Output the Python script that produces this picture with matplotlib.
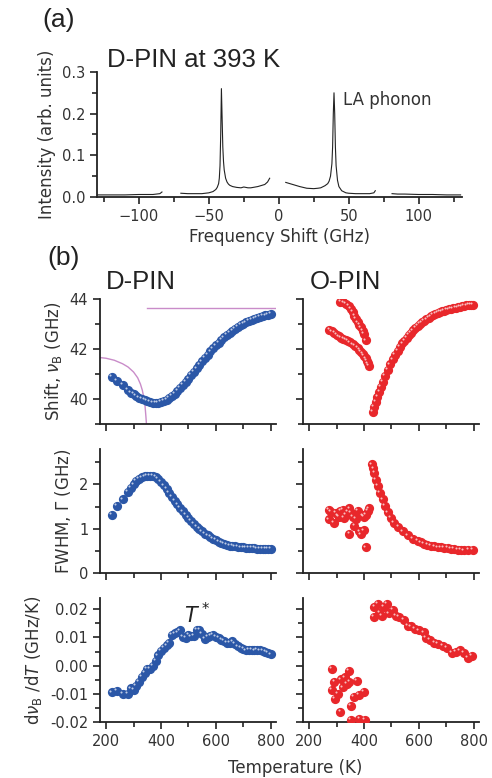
import matplotlib
matplotlib.use("Agg")
import matplotlib.pyplot as plt
from matplotlib.ticker import MultipleLocator, FormatStrFormatter
from matplotlib.transforms import offset_copy

plt.rcParams['font.family'] = ['DejaVu Sans']
plt.rcParams['mathtext.fontset'] = 'dejavusans'

# ---- (a) Brillouin spectrum of D-PIN at 393 K ----
seg1_x = [-130, -120, -110, -100, -90, -85, -83.5]
seg1_y = [0.005, 0.005, 0.005, 0.006, 0.006, 0.008, 0.012]
seg2_x = [-70, -65, -60, -55, -50, -47, -45, -44, -43, -42.5, -42, -41.5, -41, -40.5,
          -40, -39.5, -39, -38, -37, -36, -35, -33, -30, -27, -25, -22, -20, -15, -10, -8, -6.5]
seg2_y = [0.009, 0.008, 0.008, 0.008, 0.010, 0.013, 0.018, 0.023, 0.032, 0.045, 0.075, 0.15, 0.26,
          0.19, 0.12, 0.085, 0.065, 0.045, 0.036, 0.031, 0.028, 0.025, 0.023, 0.022, 0.024, 0.022,
          0.022, 0.025, 0.030, 0.036, 0.045]
seg3_x = [5, 8, 10, 15, 20, 25, 28, 30, 33, 35, 36, 37, 38, 38.5, 39, 39.5, 40, 40.5, 41,
          42, 43, 45, 48, 50, 55, 60, 65, 68, 69]
seg3_y = [0.035, 0.032, 0.030, 0.025, 0.021, 0.020, 0.021, 0.022, 0.027, 0.032, 0.038, 0.050,
          0.080, 0.120, 0.200, 0.250, 0.200, 0.120, 0.075, 0.040, 0.025, 0.015, 0.010, 0.009,
          0.008, 0.008, 0.008, 0.010, 0.015]
seg4_x = [81, 85, 90, 100, 110, 120, 130]
seg4_y = [0.008, 0.007, 0.007, 0.006, 0.006, 0.005, 0.005]

# ---- (b) temperature dependence ----
# D-PIN Brillouin shift (GHz)
dpin_T = [220, 240, 260, 280, 290, 300, 310, 320, 330, 340, 350, 360, 370, 380, 390, 400,
          410, 420, 430, 440, 450, 460, 470, 480, 490, 500, 510, 520, 530, 540, 550, 560,
          570, 580, 590, 600, 610, 620, 630, 640, 650, 660, 670, 680, 690, 700, 710, 720,
          730, 740, 750, 760, 770, 780, 790, 800]
dpin_shift = [40.90, 40.72, 40.55, 40.36, 40.26, 40.19, 40.12, 40.06, 40.00, 39.95, 39.91,
              39.88, 39.86, 39.85, 39.86, 39.88, 39.92, 39.98, 40.04, 40.12, 40.21, 40.31,
              40.43, 40.55, 40.68, 40.81, 40.95, 41.08, 41.22, 41.36, 41.50, 41.63, 41.77,
              41.90, 42.02, 42.14, 42.25, 42.36, 42.46, 42.56, 42.65, 42.73, 42.81, 42.88,
              42.95, 43.01, 43.06, 43.11, 43.16, 43.20, 43.24, 43.28, 43.31, 43.34, 43.37, 43.39]
# D-PIN FWHM (GHz)
dpin_fwhm = [1.31, 1.51, 1.66, 1.83, 1.92, 2.00, 2.08, 2.12, 2.16, 2.18, 2.19, 2.19, 2.20,
             2.17, 2.13, 2.06, 1.98, 1.90, 1.80, 1.72, 1.63, 1.55, 1.47, 1.39, 1.31, 1.24,
             1.17, 1.10, 1.04, 0.99, 0.94, 0.89, 0.85, 0.81, 0.77, 0.74, 0.71, 0.68, 0.66,
             0.64, 0.62, 0.61, 0.60, 0.59, 0.58, 0.58, 0.57, 0.57, 0.56, 0.56, 0.55, 0.55,
             0.54, 0.55, 0.55, 0.55]
# D-PIN d(nu_B)/dT (GHz/K)
dpin_deriv = [-0.0095, -0.0089, -0.0099, -0.0099, -0.0081, -0.0087, -0.0072, -0.0057, -0.0039,
              -0.0025, -0.0012, -0.0013, 0.0000, 0.0018, 0.0036, 0.0052, 0.0064, 0.0072, 0.0080,
              0.0108, 0.0114, 0.0118, 0.0125, 0.0102, 0.0098, 0.0110, 0.0104, 0.0106, 0.0128,
              0.0127, 0.0112, 0.0096, 0.0101, 0.0105, 0.0110, 0.0102, 0.0098, 0.0092, 0.0088,
              0.0082, 0.0080, 0.0086, 0.0078, 0.0068, 0.0062, 0.0058, 0.0054, 0.0055, 0.0056,
              0.0054, 0.0055, 0.0054, 0.0052, 0.0048, 0.0044, 0.0040]

# O-PIN Brillouin shift: two low-T branches and the high-T branch
opin_up_T = [314, 325, 335, 345, 353, 360, 365, 371, 377, 383, 389, 395, 401, 407]
opin_up_shift = [43.89, 43.86, 43.80, 43.72, 43.60, 43.47, 43.33, 43.20, 43.06, 42.96, 42.86,
                 42.72, 42.59, 42.34]
opin_lo_T = [274, 283, 292, 300, 308, 316, 325, 333, 341, 350, 359, 368, 377, 383, 389, 395,
             401, 406, 411, 415, 419]
opin_lo_shift = [42.76, 42.70, 42.63, 42.55, 42.50, 42.45, 42.40, 42.36, 42.32, 42.26, 42.18,
                 42.12, 42.05, 41.96, 41.87, 41.80, 41.71, 41.62, 41.51, 41.42, 41.31]
opin_hi_T = [431, 437, 443, 449, 456, 462, 468, 477, 486, 495, 504, 513, 522, 531, 540, 547,
             555, 563, 571, 579, 587, 595, 603, 611, 619, 627, 635, 644, 652, 660, 668, 676,
             684, 692, 700, 708, 716, 724, 733, 741, 749, 757, 765, 773, 781, 789, 795]
opin_hi_shift = [39.49, 39.70, 39.89, 40.10, 40.30, 40.50, 40.70, 40.94, 41.17, 41.38, 41.58,
                 41.75, 41.91, 42.08, 42.22, 42.32, 42.44, 42.55, 42.65, 42.74, 42.83, 42.92,
                 42.99, 43.06, 43.12, 43.18, 43.24, 43.30, 43.35, 43.39, 43.43, 43.47, 43.50,
                 43.53, 43.56, 43.58, 43.60, 43.62, 43.64, 43.66, 43.68, 43.70, 43.72, 43.74,
                 43.75, 43.76, 43.77]

# O-PIN FWHM
opin_fw_lo_T = [272, 272, 280, 290, 298, 305, 310, 314, 322, 328, 335, 340, 347, 347, 353,
                359, 365, 371, 377, 383, 389, 395, 399, 399, 407, 407, 413, 419]
opin_fw_lo = [1.42, 1.21, 1.38, 1.13, 1.36, 1.30, 1.27, 1.40, 1.42, 1.25, 1.32, 1.38, 1.46,
              0.88, 1.36, 1.27, 1.06, 1.22, 1.40, 0.94, 0.87, 1.30, 0.96, 1.27, 1.32, 0.58,
              1.40, 1.46]
opin_fw_hi_T = [429, 434, 438, 444, 450, 458, 468, 476, 486, 498, 510, 525, 541, 559, 577,
                595, 607, 619, 631, 644, 656, 668, 680, 692, 704, 716, 728, 741, 753, 765,
                780, 795]
opin_fw_hi = [2.45, 2.36, 2.26, 2.11, 1.96, 1.81, 1.66, 1.51, 1.37, 1.25, 1.13, 1.04, 0.94,
              0.85, 0.77, 0.72, 0.69, 0.66, 0.64, 0.62, 0.60, 0.58, 0.58, 0.57, 0.56, 0.55,
              0.54, 0.53, 0.53, 0.51, 0.52, 0.53]

# O-PIN d(nu_B)/dT
opin_d_lo_T = [282, 282, 292, 295, 304, 316, 322, 314, 331, 338, 344, 347, 353, 353, 362,
               373, 381, 383, 399, 404]
opin_d_lo = [-0.0013, -0.0087, -0.0057, -0.0117, -0.0099, -0.0049, -0.0077, -0.0164, -0.0042,
             -0.0065, -0.0018, -0.0057, -0.0144, -0.0192, -0.0111, -0.0054, -0.0105, -0.0188,
             -0.0093, -0.0192]
opin_d_hi_T = [435, 438, 450, 456, 464, 472, 484, 492, 504, 516, 528, 544, 559, 571, 585,
               601, 617, 625, 641, 656, 668, 686, 702, 719, 735, 750, 765, 777, 792]
opin_d_hi = [0.0173, 0.0208, 0.0220, 0.0187, 0.0177, 0.0208, 0.0220, 0.0185, 0.0199, 0.0175,
             0.0173, 0.0163, 0.0142, 0.0139, 0.0130, 0.0125, 0.0118, 0.0098, 0.0092, 0.0082,
             0.0077, 0.0070, 0.0062, 0.0046, 0.0050, 0.0054, 0.0044, 0.0026, 0.0035]

# guide lines in the D-PIN shift panel
guide_curve_T = [175, 200, 230, 260, 280, 300, 315, 325, 332, 338, 342, 345, 347]
guide_curve_v = [41.66, 41.63, 41.55, 41.41, 41.28, 41.08, 40.85, 40.60, 40.35, 40.02, 39.70,
                 39.30, 39.00]
guide_line_T = [349, 820]
guide_line_v = [43.62, 43.62]

BLUE = '#2b57a7'
RED = '#e8272b'
TXT = '#333333'

fig = plt.figure(figsize=(4.92, 7.78), dpi=100)


def style(ax, labels=True):
    for s in ['top', 'right']:
        ax.spines[s].set_visible(False)
    for s in ['left', 'bottom']:
        ax.spines[s].set_linewidth(1.3)
        ax.spines[s].set_color('#222222')
    ax.tick_params(which='major', direction='out', length=5, width=1.2, labelsize=10.5,
                   colors='#222222', labelcolor=TXT)
    ax.tick_params(which='minor', direction='out', length=3.5, width=1.2, colors='#222222')
    if not labels:
        ax.tick_params(axis='y', labelleft=False)


def spheres(ax, x, y, color):
    # shaded ball: full dot plus a small glint up and to the left
    ax.scatter(x, y, s=44, color=color, linewidths=0, zorder=3)
    hl = offset_copy(ax.transData, fig=fig, x=-1.8, y=1.8, units='dots')
    ax.scatter(x, y, s=2.2, color='white', alpha=0.7, linewidths=0, transform=hl, zorder=4)


# (a)
ax = fig.add_axes([0.197, 0.7468, 0.742, 0.1607])
for sx, sy in [(seg1_x, seg1_y), (seg2_x, seg2_y), (seg3_x, seg3_y), (seg4_x, seg4_y)]:
    ax.plot(sx, sy, color='#222222', lw=0.8)
ax.set_xlim(-130, 131)
ax.set_ylim(0, 0.3)
ax.xaxis.set_major_locator(MultipleLocator(50))
ax.xaxis.set_minor_locator(MultipleLocator(25))
ax.yaxis.set_major_locator(MultipleLocator(0.1))
ax.yaxis.set_minor_locator(MultipleLocator(0.05))
ax.yaxis.set_major_formatter(FormatStrFormatter('%.1f'))
style(ax)
ax.set_xlabel('Frequency Shift (GHz)', fontsize=12, color=TXT, labelpad=3)
ax.set_ylabel('Intensity (arb. units)', fontsize=12, color=TXT, labelpad=4)
ax.text(46, 0.233, 'LA phonon', fontsize=12, color=TXT, va='center', ha='left')

fig.text(0.087, 0.974, '(a)', fontsize=19, family='Liberation Sans', va='center', color='#222222')
fig.text(0.2175, 0.923, 'D-PIN at 393 K', fontsize=18.5, family='Liberation Sans',
         va='center', color='#222222')
fig.text(0.097, 0.668, '(b)', fontsize=19, family='Liberation Sans', va='center', color='#222222')
fig.text(0.2866, 0.6375, 'D-PIN', fontsize=18.5, family='Liberation Sans', va='center',
         ha='center', color='#222222')
fig.text(0.703, 0.6375, 'O-PIN', fontsize=18.5, family='Liberation Sans', va='center',
         ha='center', color='#222222')

lefts = [0.2033, 0.6159]
width = 0.3585
rows = [(0.455, 0.1607), (0.2635, 0.1594), (0.072, 0.1594)]
axes = [[fig.add_axes([l, b, width, h]) for l in lefts] for b, h in rows]

# row 1: shift
a, b = axes[0]
a.plot(guide_curve_T, guide_curve_v, color='#c98cc9', lw=1.0, zorder=2)
a.plot(guide_line_T, guide_line_v, color='#c98cc9', lw=1.0, zorder=2)
spheres(a, dpin_T, dpin_shift, BLUE)
spheres(b, opin_up_T, opin_up_shift, RED)
spheres(b, opin_lo_T, opin_lo_shift, RED)
spheres(b, opin_hi_T, opin_hi_shift, RED)
a.set_ylabel(r'Shift, $\nu_\mathrm{B}$ (GHz)', fontsize=12, color=TXT)
for ax_ in (a, b):
    ax_.set_ylim(39, 44)
    ax_.yaxis.set_major_locator(MultipleLocator(2))
    ax_.yaxis.set_minor_locator(MultipleLocator(1))

# row 2: FWHM
a, b = axes[1]
spheres(a, dpin_T, dpin_fwhm, BLUE)
spheres(b, opin_fw_lo_T, opin_fw_lo, RED)
spheres(b, opin_fw_hi_T, opin_fw_hi, RED)
a.set_ylabel(r'FWHM, $\Gamma$ (GHz)', fontsize=12, color=TXT)
for ax_ in (a, b):
    ax_.set_ylim(0, 2.8)
    ax_.yaxis.set_major_locator(MultipleLocator(1))
    ax_.yaxis.set_minor_locator(MultipleLocator(0.5))

# row 3: derivative
a, b = axes[2]
spheres(a, dpin_T, dpin_deriv, BLUE)
spheres(b, opin_d_lo_T, opin_d_lo, RED)
spheres(b, opin_d_hi_T, opin_d_hi, RED)
a.set_ylabel(r'd$\nu_\mathrm{B}$ /d$T$ (GHz/K)', fontsize=12, color=TXT)
a.text(484, 0.0182, r'$T^*$', fontsize=15, color='#222222', va='center', ha='left')
for ax_ in (a, b):
    ax_.set_ylim(-0.02, 0.024)
    ax_.yaxis.set_major_locator(MultipleLocator(0.01))
    ax_.yaxis.set_minor_locator(MultipleLocator(0.005))
    ax_.yaxis.set_major_formatter(FormatStrFormatter('%.2f'))

for r, row in enumerate(axes):
    for c, ax_ in enumerate(row):
        ax_.set_xlim(178, 820)
        ax_.xaxis.set_major_locator(MultipleLocator(200))
        ax_.xaxis.set_minor_locator(MultipleLocator(100))
        style(ax_, labels=(c == 0))
        if r < 2:
            ax_.tick_params(axis='x', labelbottom=False)

fig.text(0.6, 0.013, 'Temperature (K)', fontsize=12, color=TXT, ha='center', va='center')

fig.savefig('out.png', dpi=100)
